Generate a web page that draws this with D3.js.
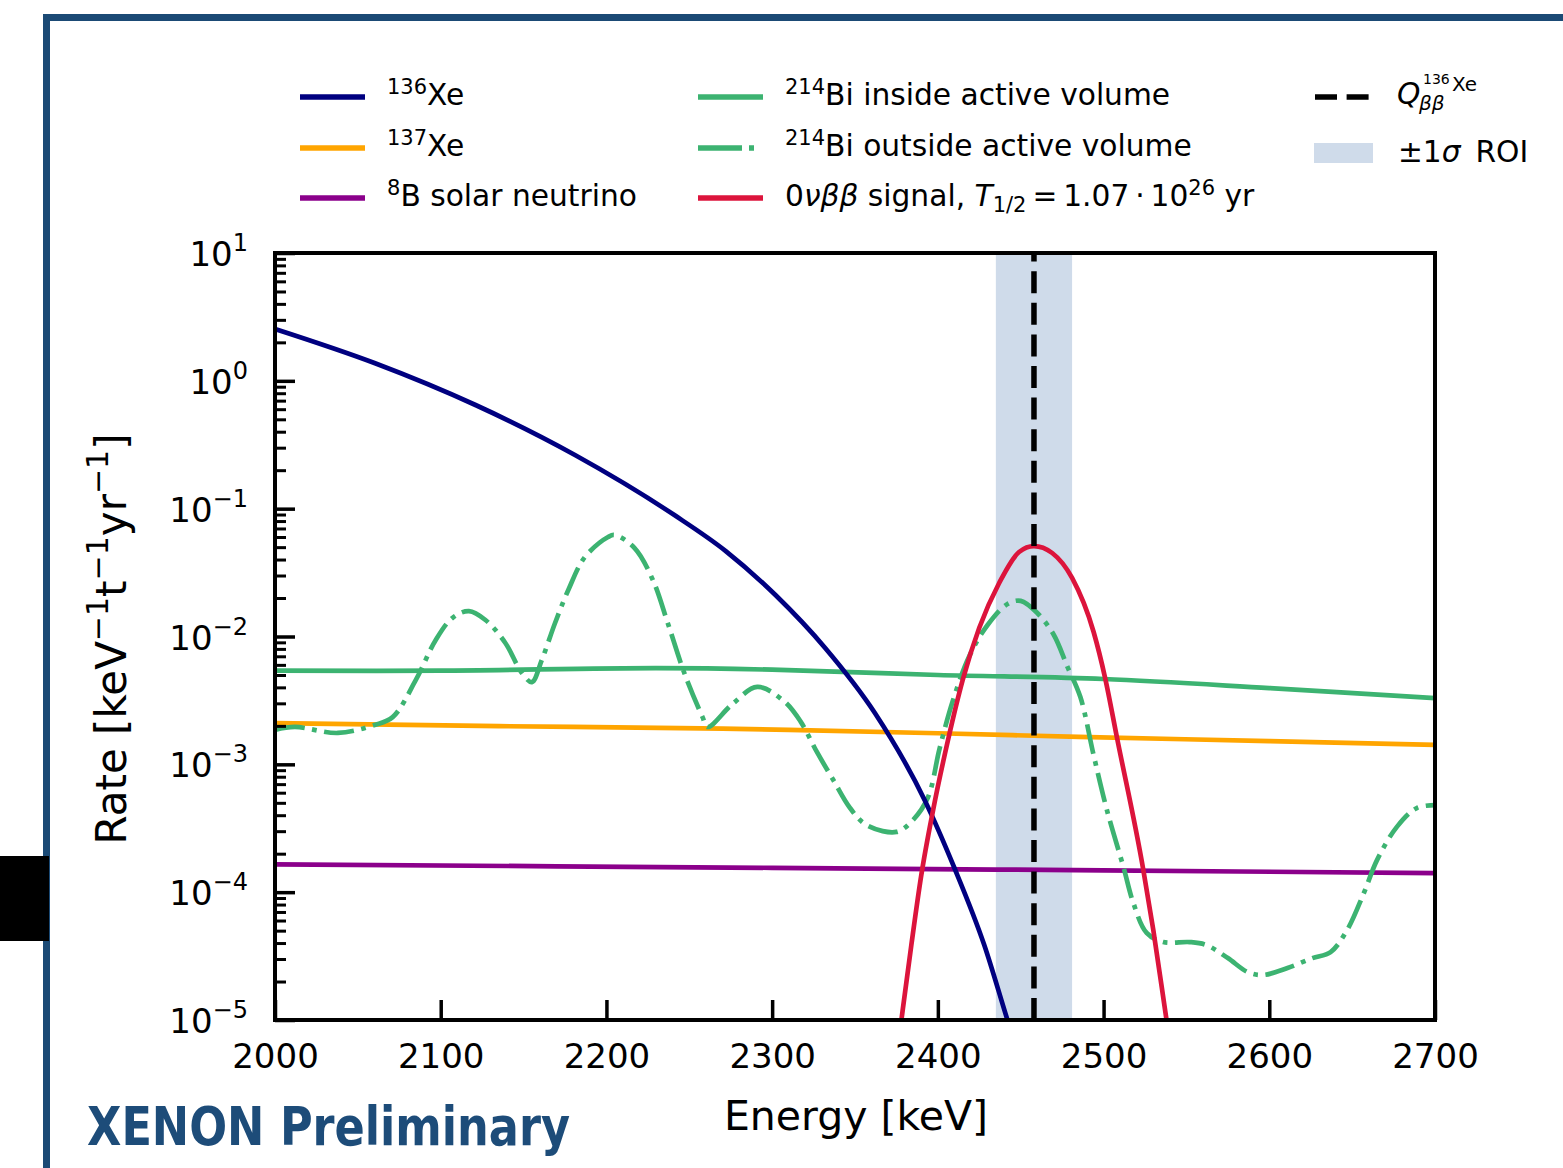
<!DOCTYPE html>
<html>
<head>
<meta charset="utf-8">
<script src="https://cdn.jsdelivr.net/npm/d3@7"></script>
<style>
  body { margin: 0; background: #fff; }
  svg { display: block; }
  text { font-family: "DejaVu Sans", sans-serif; }
</style>
</head>
<body>
<script>
// values (energy in keV, rate in keV^-1 t^-1 yr^-1)
var xe136E = [2000, 2060, 2121, 2181, 2241, 2272, 2302, 2332, 2362, 2392, 2410, 2428, 2442, 2450];
var xe136R = [2.545, 1.379, 0.647, 0.263, 0.0891, 0.0466, 0.0211, 0.00813, 0.00252, 5.26e-4, 1.545e-4, 3.86e-5, 1e-5, 4.7e-6];

var xe137E = [2000, 2135, 2270, 2400, 2485, 2600, 2700];
var xe137R = [0.0021, 0.00199, 0.0019, 0.00175, 0.00164, 0.00152, 0.00142];

var b8E = [2000, 2300, 2500, 2700];
var b8R = [1.65e-4, 1.55e-4, 1.48e-4, 1.41e-4];

var biInE = [2000, 2100, 2230, 2300, 2400, 2500, 2600, 2700];
var biInR = [0.0054, 0.0054, 0.00565, 0.0055, 0.0050, 0.00465, 0.00395, 0.0033];

var biOutE = [2000, 2012, 2038, 2060, 2071, 2085, 2097, 2107, 2117, 2127, 2139, 2149, 2155, 2161, 2169,
  2177, 2187, 2201, 2205, 2217, 2228, 2237, 2247, 2258, 2261, 2276, 2291, 2307, 2317, 2327, 2337, 2347,
  2357, 2375, 2385, 2394, 2401, 2409, 2419, 2430, 2442, 2450, 2460, 2470, 2478, 2486, 2494, 2502, 2512,
  2518, 2526, 2536, 2552, 2562, 2575, 2587, 2596, 2611, 2626, 2637, 2647, 2657, 2665, 2677, 2689, 2700];
var biOutR = [1.86e-3, 1.96e-3, 1.76e-3, 2.03e-3, 2.34e-3, 4.57e-3, 9.4e-3, 0.01395, 0.0158, 0.01346, 8.9e-3,
  5.18e-3, 4.4e-3, 6.55e-3, 0.01276, 0.0231, 0.0419, 0.06, 0.0622, 0.0492, 0.0277, 0.01276, 5.18e-3, 2.34e-3,
  1.96e-3, 2.96e-3, 4.03e-3, 3.13e-3, 2.18e-3, 1.25e-3, 7.5e-4, 4.55e-4, 3.35e-4, 2.96e-4, 3.67e-4, 5.5e-4,
  1.32e-3, 3.13e-3, 7.03e-3, 0.0123, 0.01795, 0.019, 0.01528, 0.01028, 5.88e-3, 3.36e-3, 1.18e-3, 4.4e-4,
  1.57e-4, 8.2e-5, 4.8e-5, 4.07e-5, 4.07e-5, 3.86e-5, 3.05e-5, 2.37e-5, 2.25e-5, 2.55e-5, 3.05e-5, 3.4e-5,
  5.06e-5, 9.8e-5, 1.78e-4, 3.24e-4, 4.55e-4, 4.8e-4];

var sigE = [2372, 2378, 2384, 2390, 2397, 2406, 2415, 2425, 2437, 2449, 2458, 2469, 2481, 2494, 2501, 2508, 2524, 2530, 2538, 2545];
var sigR = [2.5e-6, 1e-5, 3.86e-5, 1.36e-4, 4.3e-4, 1.52e-3, 4.57e-3, 0.0117, 0.0262, 0.0458, 0.051, 0.045,
  0.0287, 0.01084, 0.0047, 0.00164, 1.49e-4, 5.06e-5, 1e-5, 2.5e-6];

var qbb = 2458;
var roi = [2435, 2481];

var xTicks = [2000, 2100, 2200, 2300, 2400, 2500, 2600, 2700];
var yExps = [-5, -4, -3, -2, -1, 0, 1];

var svg = d3.select('body').append('svg')
  .attr('width', 1563)
  .attr('height', 1168);

svg.append('rect').attr('width', 1563).attr('height', 1168).attr('fill', '#fff');

// slide frame
svg.append('rect')
  .attr('x', 46.5).attr('y', 17.5)
  .attr('width', 1600).attr('height', 1300)
  .attr('fill', 'none')
  .attr('stroke', '#1b4a75')
  .attr('stroke-width', 7);
svg.append('rect')
  .attr('x', 0).attr('y', 856)
  .attr('width', 49).attr('height', 85)
  .attr('fill', '#000');

var x = d3.scaleLinear().domain([2000, 2700]).range([275, 1435]);
var y = d3.scaleLog().domain([1e-5, 10]).range([1020, 253]);

svg.append('clipPath').attr('id', 'plotclip')
  .append('rect')
  .attr('x', 275).attr('y', 253)
  .attr('width', 1160).attr('height', 767);

var plot = svg.append('g').attr('clip-path', 'url(#plotclip)');

// roi band and Q value
plot.append('rect')
  .attr('x', x(roi[0]))
  .attr('y', y(10))
  .attr('width', x(roi[1]) - x(roi[0]))
  .attr('height', y(1e-5) - y(10))
  .attr('fill', '#cfdbea');

function addCurve(es, rs, color, dash, curve) {
  var line = d3.line()
    .x(function(d) { return x(d[0]); })
    .y(function(d) { return y(d[1]); })
    .curve(curve || d3.curveCatmullRom.alpha(0.5));
  var p = plot.append('path')
    .datum(d3.zip(es, rs))
    .attr('d', line)
    .attr('fill', 'none')
    .attr('stroke', color)
    .attr('stroke-width', 4.7)
    .attr('stroke-linejoin', 'round');
  if (dash) p.attr('stroke-dasharray', dash);
}

addCurve(biInE, biInR, '#3cb371');
addCurve(xe137E, xe137R, '#ffa500');
addCurve(b8E, b8R, '#8b008b');
addCurve(biOutE, biOutR, '#3cb371', '30 7.5 4.7 7.5');
addCurve(xe136E, xe136R, '#000080', null, d3.curveMonotoneX);
addCurve(sigE, sigR, '#dc143c', null, d3.curveMonotoneX);

plot.append('line')
  .attr('x1', x(qbb)).attr('x2', x(qbb))
  .attr('y1', y(1e-5)).attr('y2', y(10))
  .attr('stroke', '#000')
  .attr('stroke-width', 5.5)
  .attr('stroke-dasharray', '22 9.6');

// axes
var xAxis = d3.axisBottom(x).tickValues(xTicks).tickSize(-20).tickPadding(24).tickFormat(d3.format('d'));
var gx = svg.append('g').attr('transform', 'translate(0,1020)').call(xAxis);
gx.select('.domain').remove();
gx.selectAll('.tick line').attr('stroke', '#000').attr('stroke-width', 3.5);
gx.selectAll('.tick text')
  .attr('font-size', 34)
  .attr('font-family', 'DejaVu Sans')
  .attr('fill', '#000')
  .attr('dy', '0.71em');

var majors = yExps.map(function(e) { return Math.pow(10, e); });
var minors = [];
yExps.slice(0, -1).forEach(function(e) {
  for (var m = 2; m <= 9; m++) minors.push(m * Math.pow(10, e));
});

var gyMinor = svg.append('g').attr('transform', 'translate(275,0)')
  .call(d3.axisLeft(y).tickValues(minors).tickSize(-11).tickFormat(''));
gyMinor.select('.domain').remove();
gyMinor.selectAll('.tick line').attr('stroke', '#000').attr('stroke-width', 3);

var gy = svg.append('g').attr('transform', 'translate(275,0)')
  .call(d3.axisLeft(y).tickValues(majors).tickSize(-20).tickPadding(27).tickFormat(''));
gy.select('.domain').remove();
gy.selectAll('.tick line').attr('stroke', '#000').attr('stroke-width', 3.5);
gy.selectAll('.tick text')
  .attr('font-size', 34)
  .attr('font-family', 'DejaVu Sans')
  .attr('fill', '#000')
  .attr('dy', '0.37em')
  .each(function(d) {
    var t = d3.select(this);
    var e = Math.round(Math.log10(d));
    t.append('tspan').text('10');
    t.append('tspan')
      .attr('font-size', 24)
      .attr('baseline-shift', '15px')
      .text(e < 0 ? '\u2212' + (-e) : String(e));
  });

svg.append('rect')
  .attr('x', 275).attr('y', 253)
  .attr('width', 1160).attr('height', 767)
  .attr('fill', 'none')
  .attr('stroke', '#000')
  .attr('stroke-width', 4);

// axis labels
function rich(t, parts, supSize, supShift) {
  parts.forEach(function(p) {
    var s = t.append('tspan').text(p.t);
    if (p.sup) s.attr('font-size', supSize).attr('baseline-shift', supShift + 'px');
    if (p.sub) s.attr('font-size', supSize).attr('baseline-shift', (-supShift * 0.55) + 'px');
    if (p.it) s.attr('font-style', 'italic');
  });
  return t;
}

rich(svg.append('text')
  .attr('transform', 'translate(126,639) rotate(-90)')
  .attr('text-anchor', 'middle')
  .attr('font-size', 42)
  .attr('fill', '#000'),
  [{t: 'Rate [keV'}, {t: '\u22121', sup: true}, {t: 't'}, {t: '\u22121', sup: true},
   {t: 'yr'}, {t: '\u22121', sup: true}, {t: ']'}], 30, 18);

svg.append('text')
  .attr('x', 856).attr('y', 1130)
  .attr('text-anchor', 'middle')
  .attr('font-size', 41)
  .attr('fill', '#000')
  .text('Energy [keV]');

svg.append('text')
  .attr('x', 87).attr('y', 1145)
  .attr('font-family', '"Open Sans", Lato, sans-serif')
  .attr('font-weight', 600)
  .attr('font-size', 54)
  .attr('fill', '#1d4c79')
  .attr('textLength', 483)
  .attr('lengthAdjust', 'spacingAndGlyphs')
  .text('XENON Preliminary');

// legend
var legendRows = [97, 148, 198];
var legendItems = [
  {col: 0, row: 0, color: '#000080', parts: [{t: '136', sup: true}, {t: 'Xe'}]},
  {col: 0, row: 1, color: '#ffa500', parts: [{t: '137', sup: true}, {t: 'Xe'}]},
  {col: 0, row: 2, color: '#8b008b', parts: [{t: '8', sup: true}, {t: 'B solar neutrino'}]},
  {col: 1, row: 0, color: '#3cb371', parts: [{t: '214', sup: true}, {t: 'Bi inside active volume'}]},
  {col: 1, row: 1, color: '#3cb371', dash: '44 7 5 20', parts: [{t: '214', sup: true}, {t: 'Bi outside active volume'}]},
  {col: 1, row: 2, color: '#dc143c', parts: [{t: '0'}, {t: '\u03bd\u03b2\u03b2', it: true}, {t: ' signal, '},
    {t: 'T', it: true}, {t: '1/2', sub: true}, {t: '\u2009=\u20091.07\u2009\u00b7\u200910'}, {t: '26', sup: true}, {t: ' yr'}]}
];
var colX = [300, 698];
var legend = svg.append('g');
legendItems.forEach(function(it) {
  var ly = legendRows[it.row];
  var l = legend.append('line')
    .attr('x1', colX[it.col]).attr('x2', colX[it.col] + 65)
    .attr('y1', ly).attr('y2', ly)
    .attr('stroke', it.color)
    .attr('stroke-width', 5.5);
  if (it.dash) l.attr('stroke-dasharray', it.dash);
  rich(legend.append('text')
    .attr('x', colX[it.col] + 87).attr('y', ly + 8)
    .attr('font-size', 29.7)
    .attr('fill', '#000'), it.parts, 21, 11);
});

// Q_bb entry
legend.append('line')
  .attr('x1', 1315).attr('x2', 1369)
  .attr('y1', 97).attr('y2', 97)
  .attr('stroke', '#000')
  .attr('stroke-width', 5.5)
  .attr('stroke-dasharray', '22 9.6');
legend.append('text')
  .attr('x', 1397).attr('y', 104)
  .attr('font-size', 29.7).attr('font-style', 'italic')
  .text('Q');
legend.append('text')
  .attr('x', 1419).attr('y', 110)
  .attr('font-size', 20).attr('font-style', 'italic')
  .text('\u03b2\u03b2');
legend.append('text')
  .attr('x', 1423).attr('y', 84)
  .attr('font-size', 14)
  .text('136');
legend.append('text')
  .attr('x', 1452).attr('y', 91)
  .attr('font-size', 20)
  .text('Xe');

// ROI entry
legend.append('rect')
  .attr('x', 1314).attr('y', 143)
  .attr('width', 59).attr('height', 20)
  .attr('fill', '#cfdbea');
rich(legend.append('text')
  .attr('x', 1398).attr('y', 162)
  .attr('font-size', 29.7)
  .attr('fill', '#000'),
  [{t: '\u00b11'}, {t: '\u03c3', it: true}, {t: '\u2002ROI'}], 21, 11);
</script>
</body>
</html>
